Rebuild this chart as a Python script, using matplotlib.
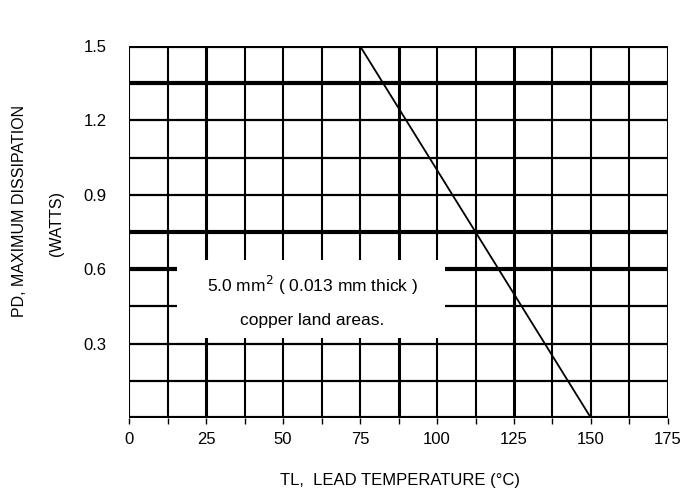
import matplotlib

matplotlib.use("Agg")

import matplotlib.pyplot as plt  # noqa: E402
from matplotlib.patches import Rectangle  # noqa: E402

plt.rcParams["font.family"] = ["Liberation Sans Narrow", "Liberation Sans", "DejaVu Sans"]

# derating curve (TL in degC, PD in watts)
temp = [75, 150]
power = [1.5, 0.0]

x_ticks = [0, 25, 50, 75, 100, 125, 150, 175]
y_ticks = [0.3, 0.6, 0.9, 1.2, 1.5]
y_tick_labels = ["0.3", "0.6", "0.9", "1.2", "1.5"]

grid_x = [0, 12.5, 25, 37.5, 50, 62.5, 75, 87.5, 100, 112.5, 125, 137.5, 150, 162.5, 175]
grid_x_thick = [25, 87.5, 125]
grid_y = [0.0, 0.15, 0.3, 0.45, 0.6, 0.75, 0.9, 1.05, 1.2, 1.35, 1.5]
grid_y_thick = [0.0, 0.6, 0.75, 1.35, 1.5]

# white label box (data coords)
box_x = (15.5, 102.7)
box_y = (0.323, 0.637)

fig = plt.figure(figsize=(6.83, 5), dpi=100)
fig.set_facecolor("white")
ax = fig.add_axes([0.189, 0.164, 0.789, 0.744])

for gx in grid_x:
    lw = 2.2 if gx in grid_x_thick else 1.5
    ax.axvline(gx, color="black", linewidth=lw, zorder=1)
for gy in grid_y:
    lw = 3.0 if gy in grid_y_thick else 1.6
    ax.axhline(gy, color="black", linewidth=lw, zorder=1)

ax.add_patch(Rectangle((box_x[0], box_y[0]), box_x[1] - box_x[0], box_y[1] - box_y[0],
                       facecolor="white", edgecolor="none", zorder=2))

ax.plot(temp, power, color="black", linewidth=1.3, zorder=3)

ax.text(59.5, 0.536, r"5.0 mm$^{2}$ ( 0.013 mm thick )", ha="center", va="center",
        fontsize=12.5, family=["Liberation Sans", "DejaVu Sans"], zorder=4)
ax.text(59.5, 0.395, "copper land areas.", ha="center", va="center",
        fontsize=12.5, family=["Liberation Sans", "DejaVu Sans"], zorder=4)

ax.set_xlim(0, 175)
ax.set_ylim(0, 1.5)
ax.set_xticks(grid_x)
ax.set_xticklabels([str(v) if v in x_ticks else "" for v in grid_x], fontsize=12,
                   family=["Liberation Sans", "DejaVu Sans"])
ax.set_yticks(y_ticks)
ax.set_yticklabels(y_tick_labels, fontsize=12, family=["Liberation Sans", "DejaVu Sans"])
ax.tick_params(axis="x", length=4, width=1, pad=6)
ax.tick_params(axis="y", length=0, pad=16)

for spine in ax.spines.values():
    spine.set_visible(False)

fig.text(0.585, 0.038, "TL,  LEAD TEMPERATURE (\u00b0C)", ha="center", va="center",
         fontsize=12)
fig.text(0.028, 0.578, "PD, MAXIMUM DISSIPATION", rotation=90, ha="center", va="center",
         fontsize=11.5)
fig.text(0.082, 0.554, "(WATTS)", rotation=90, ha="center", va="center", fontsize=11.5)

fig.savefig("out.png", dpi=100, facecolor=fig.get_facecolor())
